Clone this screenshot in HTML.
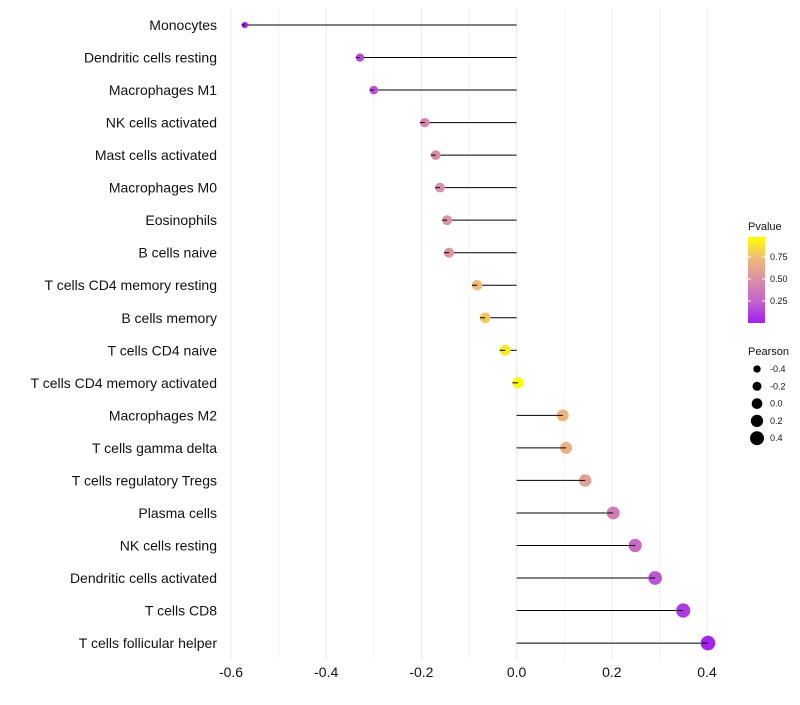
<!DOCTYPE html>
<html><head><meta charset="utf-8"><style>
body{margin:0;background:#fff;font-family:"Liberation Sans",sans-serif}
svg text{font-family:"Liberation Sans",sans-serif}
</style></head><body>
<svg id="c" width="800" height="700">
<defs><linearGradient id="pg" x1="0" y1="1" x2="0" y2="0">
<stop offset="0" stop-color="#a020f0"/><stop offset="0.25" stop-color="#c262cc"/><stop offset="0.5" stop-color="#d98fa8"/><stop offset="0.75" stop-color="#f0ba78"/><stop offset="1" stop-color="#ffff00"/></linearGradient></defs>
</svg>
<script>
const categories=["Monocytes","Dendritic cells resting","Macrophages M1","NK cells activated","Mast cells activated","Macrophages M0","Eosinophils","B cells naive","T cells CD4 memory resting","B cells memory","T cells CD4 naive","T cells CD4 memory activated","Macrophages M2","T cells gamma delta","T cells regulatory  Tregs ","Plasma cells","NK cells resting","Dendritic cells activated","T cells CD8","T cells follicular helper"];
const pearson=[-0.571,-0.329,-0.300,-0.193,-0.170,-0.161,-0.146,-0.142,-0.083,-0.066,-0.024,0.003,0.097,0.104,0.144,0.203,0.249,0.291,0.350,0.402];
const pvalue=[0.02,0.15,0.18,0.45,0.48,0.5,0.52,0.53,0.75,0.8,0.92,0.99,0.72,0.7,0.6,0.4,0.3,0.2,0.1,0.02];
const xTicks=[-0.6,-0.4,-0.2,0.0,0.2,0.4];
const xTickLabels=["-0.6","-0.4","-0.2","0.0","0.2","0.4"];
const pTicks=[0.25,0.5,0.75];
const sizeLegend=[-0.4,-0.2,0.0,0.2,0.4];
const svg=document.getElementById('c');const NS="http://www.w3.org/2000/svg";
function mk(t,a,p){const e=document.createElementNS(NS,t);for(const k in a)e.setAttribute(k,a[k]);(p||svg).appendChild(e);return e;}
const x=v=>516.6+476*v;
const y=i=>25+i*32.53;
const r=v=>Math.max(1.8,5.6+4.3*v);
const stops=[[0,[160,32,240]],[0.25,[194,98,204]],[0.5,[217,143,168]],[0.75,[240,186,120]],[1,[255,255,0]]];
function col(p){for(let i=1;i<stops.length;i++){if(p<=stops[i][0]){const a=stops[i-1],b=stops[i],t=(p-a[0])/(b[0]-a[0]);return 'rgb('+a[1].map((c,j)=>Math.round(c+(b[1][j]-c)*t)).join(',')+')';}}return 'rgb(255,255,0)';}
for(let v=-0.6;v<=0.41;v+=0.1){const g=mk('line',{x1:x(v),x2:x(v),y1:8,y2:660,stroke:'#ebebeb','stroke-width':Math.abs(Math.round(v*10))%2==0?1:0.6});

}
xTicks.forEach((v,i)=>{const t=mk('text',{x:x(v),y:677,'text-anchor':'middle','font-size':14,fill:'#111'});t.textContent=xTickLabels[i];

});
categories.forEach((c,i)=>{
const t=mk('text',{x:217,y:y(i)+5,'text-anchor':'end','font-size':14,fill:'#111'});t.textContent=c;


const l=mk('line',{x1:x(0),x2:x(pearson[i]),y1:y(i),y2:y(i),stroke:'#000','stroke-width':1});


const d=mk('circle',{cx:x(pearson[i]),cy:y(i),r:r(pearson[i]),fill:col(pvalue[i])});


mk('line',{x1:x(pearson[i])-Math.min(r(pearson[i]),6),x2:x(pearson[i]),y1:y(i),y2:y(i),stroke:'#000','stroke-width':1});
});
let t=mk('text',{x:748,y:230,'font-size':11,fill:'#111'});t.textContent='Pvalue';

const cb=mk('rect',{x:748,y:237,width:17,height:86,fill:'url(#pg)'});

pTicks.forEach(p=>{const yy=323-p*88;mk('line',{x1:748,x2:751,y1:yy,y2:yy,stroke:'#fff'});mk('line',{x1:762,x2:765,y1:yy,y2:yy,stroke:'#fff'});
const tt=mk('text',{x:770,y:yy+3,'font-size':9,fill:'#111'});tt.textContent=p.toFixed(2);
});
t=mk('text',{x:748,y:355,'font-size':11,fill:'#111'});t.textContent='Pearson';

sizeLegend.forEach((v,i)=>{const yy=369+i*17.3;const c=mk('circle',{cx:757,cy:yy,r:r(v)*0.95,fill:'#000'});

const tt=mk('text',{x:770,y:yy+3,'font-size':9,fill:'#111'});tt.textContent=v.toFixed(1);
});
</script>
</body></html>
